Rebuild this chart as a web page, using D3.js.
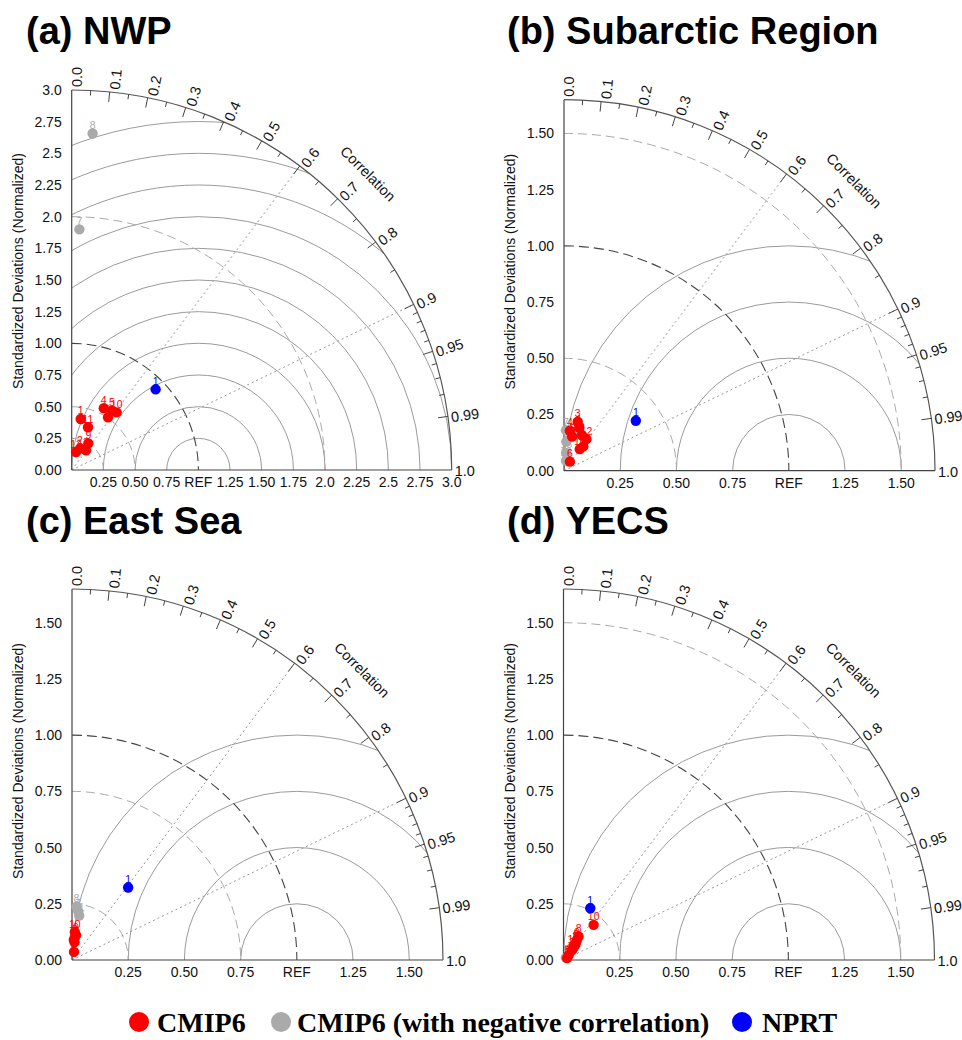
<!DOCTYPE html>
<html><head><meta charset="utf-8">
<script src="https://cdn.jsdelivr.net/npm/d3@7"></script>
<style>body{margin:0;background:#fff}svg{display:block}</style>
</head><body>
<svg id="chart" width="962" height="1040"></svg>
<script>
// ---------- data ----------
const panelTitles = ["(a) NWP", "(b) Subarctic Region", "(c) East Sea", "(d) YECS"];
const panelMaxSD = [3.0, 1.65, 1.65, 1.65];

const sdTicksA = [0, 0.25, 0.5, 0.75, 1.0, 1.25, 1.5, 1.75, 2.0, 2.25, 2.5, 2.75, 3.0];
const sdYLabelsA = ["0.00","0.25","0.50","0.75","1.00","1.25","1.50","1.75","2.0","2.25","2.5","2.75","3.0"];
const sdXLabelsA = ["","0.25","0.50","0.75","REF","1.25","1.50","1.75","2.0","2.25","2.5","2.75","3.0"];
const sdTicksB = [0, 0.25, 0.5, 0.75, 1.0, 1.25, 1.5];
const sdYLabelsB = ["0.00","0.25","0.50","0.75","1.00","1.25","1.50"];
const sdXLabelsB = ["","0.25","0.50","0.75","REF","1.25","1.50"];

const corrMajor = [0, 0.1, 0.2, 0.3, 0.4, 0.5, 0.6, 0.7, 0.8, 0.9, 0.95, 0.99, 1.0];
const corrMajorLabels = ["0.0","0.1","0.2","0.3","0.4","0.5","0.6","0.7","0.8","0.9","0.95","0.99","1.0"];
const corrMinor = [0.05,0.15,0.25,0.35,0.45,0.55,0.65,0.75,0.85,0.91,0.92,0.93,0.94,0.96,0.97,0.98];
const corrDotted = [0.6, 0.9];

// centred RMS-difference arcs (solid) and extra std-dev arcs (dashed)
const rmsA = [0.25,0.5,0.75,1.0,1.25,1.5,1.75,2.0,2.25,2.5,2.75];
const rmsB = [0.25,0.5,0.75,1.0];
const stdArcsA = [0.25, 0.5, 2.0];
const stdArcsB = [0.5, 1.5];
const stdArcsC = [0.25, 0.75];
const stdArcsD = [0.25, 1.5];

// points: [model id, normalized std dev, correlation]
const aCMIP6 = [[1,0.409,0.174],[11,0.361,0.357],[4,0.549,0.461],[6,0.505,0.568],[5,0.566,0.562],[10,0.577,0.615],[2,0.183,0.360],[9,0.248,0.529],[3,0.192,0.589],[12,0.146,0.233]];
const aNeg   = [[7,1.901,0.032],[8,2.662,0.062]];
const aNPRT  = [[1,0.919,0.721]];

const bCMIP6 = [[3,0.226,0.270],[1,0.204,0.333],[4,0.180,0.144],[5,0.156,0.231],[2,0.177,0.452],[12,0.172,0.580],[9,0.138,0.623],[10,0.119,0.589],[6,0.048,0.545]];
const bNeg   = [[7,0.180,0.050],[8,0.130,0.080],[11,0.180,0.340],[13,0.080,0.120],[14,0.045,0.200]];
const bNPRT  = [[1,0.389,0.821]];

const cCMIP6 = [[10,0.125,0.100],[9,0.112,0.160],[2,0.100,0.120],[3,0.090,0.090],[4,0.080,0.140],[6,0.037,0.240]];
const cNeg   = [[8,0.238,0.084],[7,0.217,0.129],[11,0.200,0.160]];
const cNPRT  = [[1,0.408,0.612]];

const dCMIP6 = [[10,0.206,0.651],[8,0.124,0.540],[9,0.107,0.559],[6,0.095,0.580],[2,0.085,0.613],[12,0.070,0.630],[3,0.058,0.654],[4,0.032,0.720],[5,0.018,0.890]];
const dNeg   = [[7,0.015,0.700]];
const dNPRT  = [[1,0.259,0.460]];

const legendLabels = ["CMIP6", "CMIP6 (with negative correlation)", "NPRT"];
const groupColors = ["#ff0000", "#aaaaaa", "#0000ff"];

// ---------- layout ----------
const svg = d3.select("#chart");
const sans = "'Liberation Sans', Arial, Helvetica, sans-serif";
const panels = [
  {ox: 71.7, oy: 470, R: 380, tx: 26, ty: 44, sd: sdTicksA, yl: sdYLabelsA, xl: sdXLabelsA, rms: rmsA, arcs: stdArcsA, groups: [aNeg, aCMIP6, aNPRT]},
  {ox: 564, oy: 470.7, R: 371, tx: 507, ty: 44, sd: sdTicksB, yl: sdYLabelsB, xl: sdXLabelsB, rms: rmsB, arcs: stdArcsB, groups: [bNeg, bCMIP6, bNPRT]},
  {ox: 72, oy: 960, R: 371, tx: 26, ty: 534, sd: sdTicksB, yl: sdYLabelsB, xl: sdXLabelsB, rms: rmsB, arcs: stdArcsC, groups: [cNeg, cCMIP6, cNPRT]},
  {ox: 563.5, oy: 960, R: 371, tx: 507, ty: 534, sd: sdTicksB, yl: sdYLabelsB, xl: sdXLabelsB, rms: rmsB, arcs: stdArcsD, groups: [dNeg, dCMIP6, dNPRT]}
];
const groupOrder = [1, 0, 2]; // colour index for groups listed [neg, cmip6, nprt]

panels.forEach((p, i) => {
  const s = d3.scaleLinear().domain([0, panelMaxSD[i]]).range([0, p.R]);
  const g = svg.append("g");
  const ox = p.ox, oy = p.oy, R = p.R;
  const px = (sd, c) => ox + s(sd * c);
  const py = (sd, c) => oy - s(sd * Math.sqrt(Math.max(0, 1 - c * c)));

  // clip to quarter disc
  const cid = "clip" + i;
  const cp = d3.path();
  cp.moveTo(ox, oy); cp.lineTo(ox, oy - R); cp.arc(ox, oy, R, -Math.PI / 2, 0); cp.closePath();
  svg.append("clipPath").attr("id", cid).append("path").attr("d", cp.toString());
  const inner = g.append("g").attr("clip-path", `url(#${cid})`);

  // RMS arcs centred on REF
  p.rms.forEach(r => {
    const a = d3.path();
    const cx = ox + s(1.0);
    a.moveTo(cx - s(r), oy);
    a.arc(cx, oy, s(r), Math.PI, 2 * Math.PI);
    inner.append("path").attr("d", a.toString()).attr("fill", "none")
      .attr("stroke", "#9a9a9a").attr("stroke-width", 1);
  });
  // light dashed std arcs
  p.arcs.forEach(r => {
    const a = d3.path();
    a.moveTo(ox, oy - s(r)); a.arc(ox, oy, s(r), -Math.PI / 2, 0);
    inner.append("path").attr("d", a.toString()).attr("fill", "none")
      .attr("stroke", "#aaaaaa").attr("stroke-width", 1).attr("stroke-dasharray", "9,5");
  });
  // REF std arc (dark dashed)
  {
    const a = d3.path();
    a.moveTo(ox, oy - s(1)); a.arc(ox, oy, s(1), -Math.PI / 2, 0);
    inner.append("path").attr("d", a.toString()).attr("fill", "none")
      .attr("stroke", "#444").attr("stroke-width", 1.1).attr("stroke-dasharray", "10,5");
  }
  // dotted correlation rays
  corrDotted.forEach(c => {
    inner.append("line").attr("x1", ox).attr("y1", oy)
      .attr("x2", px(panelMaxSD[i], c)).attr("y2", py(panelMaxSD[i], c))
      .attr("stroke", "#999").attr("stroke-width", 1).attr("stroke-dasharray", "2,3");
  });

  // axes
  g.append("line").attr("x1", ox).attr("y1", oy).attr("x2", ox).attr("y2", oy - R).attr("stroke", "#444").attr("stroke-width", 1.2);
  g.append("line").attr("x1", ox).attr("y1", oy).attr("x2", ox + R).attr("y2", oy).attr("stroke", "#444").attr("stroke-width", 1.2);
  {
    const a = d3.path();
    a.moveTo(ox, oy - R); a.arc(ox, oy, R, -Math.PI / 2, 0);
    g.append("path").attr("d", a.toString()).attr("fill", "none").attr("stroke", "#555").attr("stroke-width", 1.2);
  }

  // std-dev tick labels
  p.sd.forEach((v, k) => {
    g.append("text").attr("x", ox - 10).attr("y", oy - s(v)).attr("text-anchor", "end")
      .attr("dominant-baseline", "central").attr("font-family", sans).attr("font-size", 14)
      .attr("fill", "#111").text(p.yl[k]);
    if (p.xl[k]) {
      g.append("text").attr("x", ox + s(v)).attr("y", oy + 12).attr("text-anchor", "middle")
        .attr("dominant-baseline", "central").attr("font-family", sans).attr("font-size", 14)
        .attr("fill", "#111").text(p.xl[k]);
    }
  });

  // correlation ticks
  const tick = (c, len) => {
    const th = Math.acos(c);
    g.append("line")
      .attr("x1", ox + R * Math.cos(th)).attr("y1", oy - R * Math.sin(th))
      .attr("x2", ox + (R - len) * Math.cos(th)).attr("y2", oy - (R - len) * Math.sin(th))
      .attr("stroke", "#444").attr("stroke-width", 1);
  };
  corrMajor.forEach(c => { if (c > 0 && c < 1) tick(c, 10); });
  corrMinor.forEach(c => tick(c, 5));
  corrMajor.forEach((c, k) => {
    const th = Math.acos(c);
    const deg = th * 180 / Math.PI;
    const x = ox + (R + 3) * Math.cos(th), y = oy - (R + 3) * Math.sin(th);
    const shift = 1 + 4 * th / (Math.PI / 2);
    g.append("text").attr("transform", `translate(${x},${y}) rotate(${-deg})`)
      .attr("x", 0).attr("y", shift).attr("dominant-baseline", "central")
      .attr("font-family", sans).attr("font-size", 14.5).attr("fill", "#111")
      .text(corrMajorLabels[k]);
  });
  {
    const th = Math.PI / 4, r = R + 39;
    g.append("text").attr("transform", `translate(${ox + r * Math.cos(th)},${oy - r * Math.sin(th)}) rotate(45)`)
      .attr("text-anchor", "middle").attr("dominant-baseline", "central")
      .attr("font-family", sans).attr("font-size", 14.5).attr("fill", "#111").text("Correlation");
  }

  // y-axis title
  g.append("text").attr("transform", `translate(${ox - 54},${oy - 199}) rotate(-90)`)
    .attr("text-anchor", "middle").attr("dominant-baseline", "central")
    .attr("font-family", sans).attr("font-size", 14).attr("fill", "#111")
    .text("Standardized Deviations (Normalized)");

  // panel title
  g.append("text").attr("x", p.tx).attr("y", p.ty).attr("font-family", sans)
    .attr("font-weight", "bold").attr("font-size", 38).attr("fill", "#000").text(panelTitles[i]);

  // points
  p.groups.forEach((grp, gi) => {
    const col = groupColors[groupOrder[gi]];
    const pg = g.append("g");
    pg.selectAll("circle").data(grp).join("circle")
      .attr("cx", d => px(d[1], d[2])).attr("cy", d => py(d[1], d[2]))
      .attr("r", 5.2).attr("fill", col);
    pg.selectAll("text").data(grp).join("text")
      .attr("x", d => px(d[1], d[2])).attr("y", d => py(d[1], d[2]) - 4.5)
      .attr("text-anchor", "middle").attr("font-family", sans).attr("font-size", 10.5)
      .attr("fill", col).text(d => d[0]);
  });
});

// ---------- legend ----------
const serif = "'Liberation Serif', 'Times New Roman', serif";
const leg = svg.append("g");
const legX = [139, 281, 742];
const legTX = [157, 297, 762];
legendLabels.forEach((t, k) => {
  leg.append("circle").attr("cx", legX[k]).attr("cy", 1022).attr("r", 10).attr("fill", groupColors[k]);
  leg.append("text").attr("x", legTX[k]).attr("y", 1032).attr("font-family", serif)
    .attr("font-weight", "bold").attr("font-size", 28).attr("fill", "#000").text(t);
});
</script>
</body></html>
